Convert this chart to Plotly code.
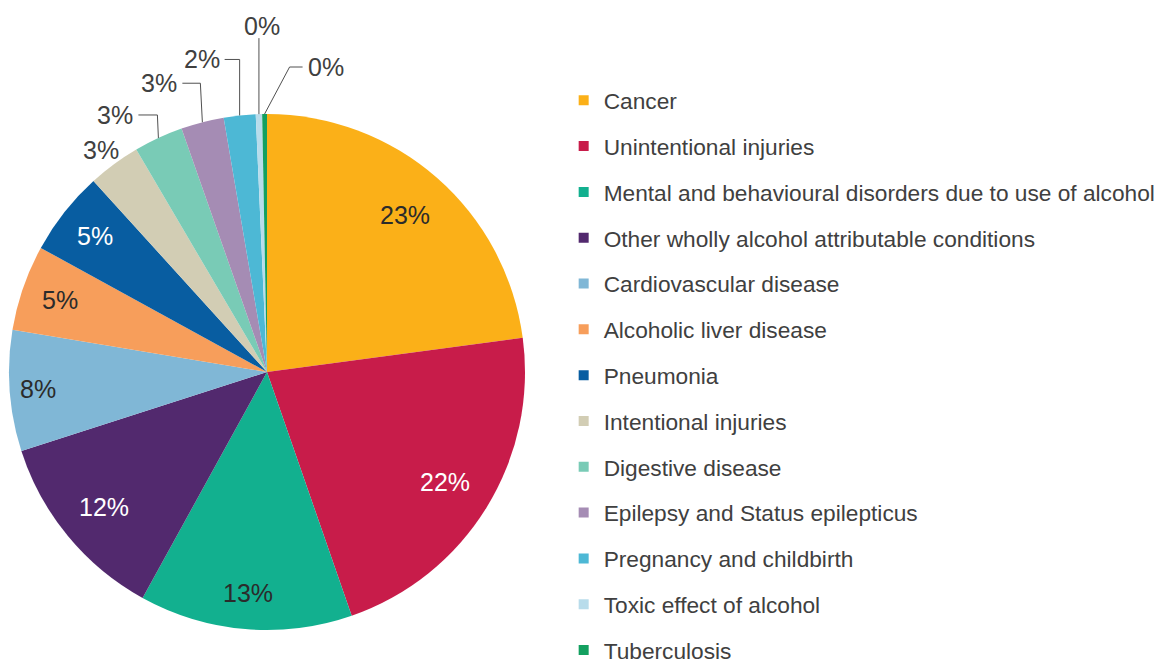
import math
import plotly.graph_objects as go

categories = [
    "Cancer",
    "Unintentional injuries",
    "Mental and behavioural disorders due to use of alcohol",
    "Other wholly alcohol attributable conditions",
    "Cardiovascular disease",
    "Alcoholic liver disease",
    "Pneumonia",
    "Intentional injuries",
    "Digestive disease",
    "Epilepsy and Status epilepticus",
    "Pregnancy and childbirth",
    "Toxic effect of alcohol",
    "Tuberculosis",
]
values = [23.0, 21.9, 13.4, 12.1, 7.6, 5.4, 5.3, 3.3, 3.1, 2.7, 2.0, 0.4, 0.3]
colors = [
    "#FBB018", "#C81C4A", "#12B08F", "#52296E", "#80B7D6", "#F79E5B",
    "#085DA1", "#D2CDB4", "#79CBB6", "#A58CB4", "#4DB8D5", "#B8DCEB", "#13A060",
]

# ---- styling / layout ----
FONT = "Arial, Liberation Sans, sans-serif"
W, H = 1162, 662
PAGE_OFFSET = 8                                  # default body margin of the html page
PIE_CX, PIE_CY, PIE_R = 267 - PAGE_OFFSET, 372 - PAGE_OFFSET, 258
LABEL_SIZE = 25
DARK = "#2b2b2b"
GREY = "#404040"
# label style per slice: inside (colour, radial fraction) or outside with leader
label_style = [
    ("in", DARK, 0.81), ("in", "white", 0.81), ("in", DARK, 0.86),
    ("in", "white", 0.82), ("in", DARK, 0.89), ("in", DARK, 0.85),
    ("in", "white", 0.85),
    ("near", (-13, -14)),
    ("out", (-1, -23, -19)),
    ("out", (-2, -39, -18)),
    ("out", (0, -56, -15)),
    ("out", (0, -76, 0)),
    ("out", (25, -47, 13)),
]


def px2paper(x, y):
    return x / W, 1 - y / H


fig = go.Figure()
fig.add_trace(go.Pie(
    labels=categories,
    values=values,
    sort=False,
    direction="clockwise",
    rotation=0,
    marker=dict(colors=colors, line=dict(width=0)),
    textinfo="none",
    showlegend=False,
    domain=dict(x=[(PIE_CX - PIE_R) / W, (PIE_CX + PIE_R) / W],
                y=[1 - (PIE_CY + PIE_R) / H, 1 - (PIE_CY - PIE_R) / H]),
    hoverinfo="label+percent",
))

# percentage labels, positioned from the slice angles
total = sum(values)
cum = 0.0
annotations = []
shapes = []
for v, style in zip(values, label_style):
    mid = (cum + v / 2) / total * 2 * math.pi
    cum += v
    pct = f"{round(v / total * 100):.0f}%"
    sx, sy = math.sin(mid), -math.cos(mid)
    rx, ry = PIE_CX + sx * PIE_R, PIE_CY + sy * PIE_R
    if style[0] == "in":
        frac = style[2]
        x, y = px2paper(PIE_CX + sx * PIE_R * frac, PIE_CY + sy * PIE_R * frac)
        annotations.append(dict(x=x, y=y, xref="paper", yref="paper", text=pct,
                                showarrow=False, xanchor="center", yanchor="middle",
                                font=dict(family=FONT, size=LABEL_SIZE, color=style[1])))
        continue
    if style[0] == "near":
        dx, dy = style[1]
        x, y = px2paper(rx + dx, ry + dy)
        annotations.append(dict(x=x, y=y, xref="paper", yref="paper", text=pct,
                                showarrow=False, xanchor="center", yanchor="middle",
                                font=dict(family=FONT, size=LABEL_SIZE, color=GREY)))
        continue
    edx, edy, arm = style[1]
    ex, ey = rx + edx, ry + edy
    tx, ty = ex + arm, ey
    p0 = px2paper(rx, ry)
    p1 = px2paper(ex, ey)
    p2 = px2paper(tx, ty)
    shapes.append(dict(type="path", xref="paper", yref="paper",
                       path=f"M {p0[0]},{p0[1]} L {p1[0]},{p1[1]} L {p2[0]},{p2[1]}",
                       line=dict(color="#505050", width=1)))
    if arm < 0:
        ax_, xa, yy, ya = tx - 3, "right", ty, "middle"
    elif arm > 0:
        ax_, xa, yy, ya = tx + 3, "left", ty, "middle"
    else:
        ax_, xa, yy, ya = tx + 3, "center", ty + 4, "bottom"
    x, y = px2paper(ax_, yy)
    annotations.append(dict(x=x, y=y, xref="paper", yref="paper", text=pct,
                            showarrow=False, xanchor=xa, yanchor=ya,
                            font=dict(family=FONT, size=LABEL_SIZE, color=GREY)))

# legend entries (one per category)
for i, (name, col) in enumerate(zip(categories, colors)):
    fig.add_trace(go.Scatter(
        x=[None], y=[None], mode="markers", name=name,
        legendgroup=f"g{i}",
        marker=dict(symbol="square", size=10, color=col),
        showlegend=True, hoverinfo="skip",
    ))

fig.update_layout(
    width=W, height=H,
    margin=dict(l=0, r=0, t=0, b=0, autoexpand=False),
    paper_bgcolor="white", plot_bgcolor="white",
    font=dict(family=FONT, size=20, color=GREY),
    xaxis=dict(visible=False), yaxis=dict(visible=False),
    annotations=annotations,
    shapes=shapes,
    legend=dict(
        x=0.4782, xanchor="left", y=0.8927, yanchor="top",
        font=dict(family=FONT, size=22.7, color=GREY),
        tracegroupgap=13.3, itemwidth=30,
        bgcolor="rgba(0,0,0,0)",
    ),
)
try:
    fig.update_layout(legend_maxheight=900)
except Exception:
    pass

fig.write_html("out.html")
